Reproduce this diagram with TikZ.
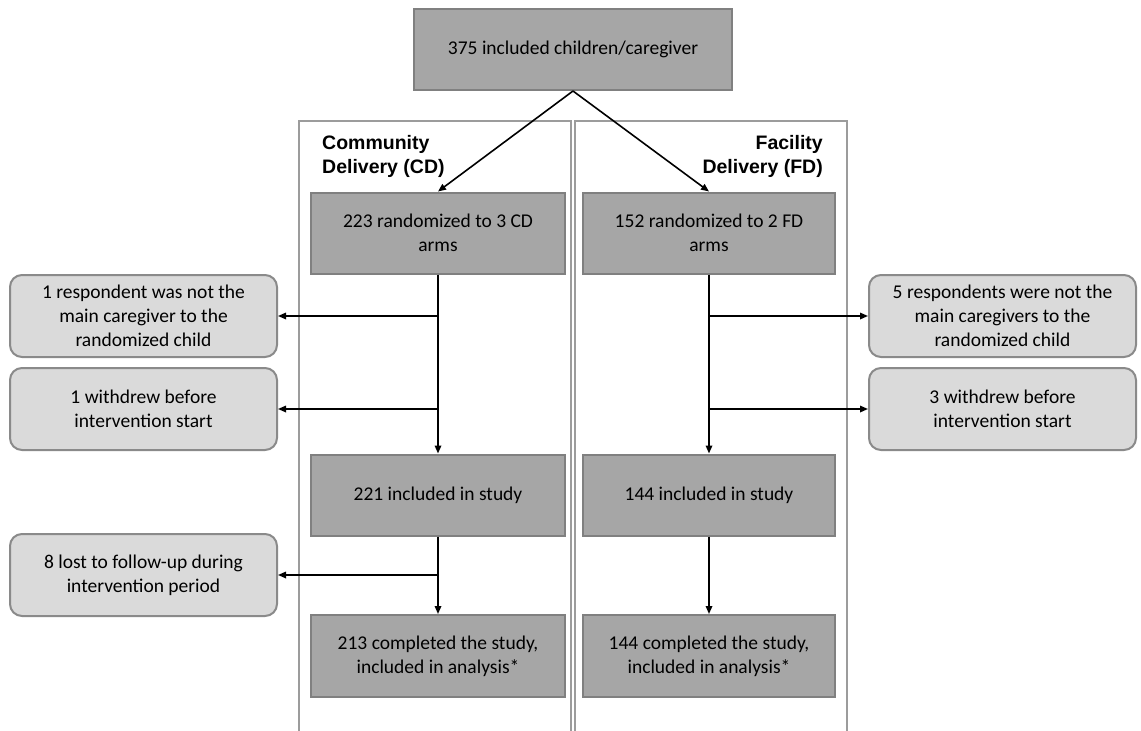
\documentclass[tikz,border=0pt]{standalone}
\usepackage{fontspec}
\setmainfont{Carlito}
\newfontfamily\ttlfamily{Liberation Sans}
\usepackage{xcolor}
\usepackage{tikz}
\usetikzlibrary{positioning,arrows.meta}
\definecolor{boxfill}{HTML}{A6A6A6}
\definecolor{boxedge}{HTML}{808080}
\definecolor{exfill}{HTML}{DADADA}
\definecolor{exedge}{HTML}{8A8A8A}
\definecolor{framegray}{HTML}{9C9C9C}
\newcommand{\boxfont}{\fontsize{19.5}{24}\selectfont}

\begin{document}
\begin{tikzpicture}[
  x=1pt, y=-1pt,
  mainbox/.style={rectangle, draw=boxedge, fill=boxfill, line width=2pt, minimum width=254pt, minimum height=81pt, align=center, font=\boxfont},
  exbox/.style={rectangle, rounded corners=12pt, draw=exedge, fill=exfill, line width=2pt, minimum width=267pt, minimum height=82pt, align=center, font=\boxfont},
  arm/.style={draw=framegray, line width=2.2pt},
  ttl/.style={inner sep=0pt, font=\ttlfamily\bfseries\fontsize{19.5}{24.5}\selectfont},
  flow/.style={-{Triangle[length=8pt,width=6.5pt]}, line width=1.6pt, black}
]
\useasboundingbox (0,0) rectangle (1141,731);

% arm frames
\draw[arm] (299,731) -- (299,121) -- (571,121) -- (571,731);
\draw[arm] (575,731) -- (575,121) -- (847,121) -- (847,731);
\node[ttl, anchor=north west, align=left] (cdt) at (322,135) {Community\\Delivery (CD)};
\node[ttl, anchor=north east, align=right] (fdt) at (823,135) {Facility\\Delivery (FD)};

% enrolment
\node[mainbox, minimum width=318pt] (top) at (573,49.5) {375 included children/caregiver};

% community delivery
\node[mainbox] (cd1) at (438,233) {223 randomized to 3 CD\\arms};
\node[mainbox] (cd2) at (438,495) {221 included in study};
\node[mainbox, minimum height=82pt] (cd3) at (438,656) {213 completed the study,\\included in analysis*};

% facility delivery
\node[mainbox, minimum width=252pt] (fd1) at (709,233) {152 randomized to 2 FD\\arms};
\node[mainbox, minimum width=252pt] (fd2) at (709,495) {144 included in study};
\node[mainbox, minimum width=252pt, minimum height=82pt] (fd3) at (709,656) {144 completed the study,\\included in analysis*};

% exclusions
\node[exbox] (ex1) at (143.5,316) {1 respondent was not the\\main caregiver to the\\randomized child};
\node[exbox] (ex2) at (143.5,409) {1 withdrew before\\intervention start};
\node[exbox] (ex3) at (143.5,575) {8 lost to follow-up during\\intervention period};
\node[exbox] (fx1) at (1002.5,316) {5 respondents were not the\\main caregivers to the\\randomized child};
\node[exbox] (fx2) at (1002.5,409) {3 withdrew before\\intervention start};

\draw[flow] (top.south) -- (cd1.north);
\draw[flow] (top.south) -- (fd1.north);
\draw[flow] (cd1) -- (cd2);
\draw[flow] (cd2) -- (cd3);
\draw[flow] (fd1) -- (fd2);
\draw[flow] (fd2) -- (fd3);

\foreach \e in {ex1,ex2} {
  \coordinate (c-\e) at (cd1.south |- \e.east);
  \draw[flow] (c-\e) -- (\e);
}
\coordinate (c-ex3) at (cd2.south |- ex3.east);
\draw[flow] (c-ex3) -- (ex3);
\foreach \f in {fx1,fx2} {
  \coordinate (c-\f) at (fd1.south |- \f.west);
  \draw[flow] (c-\f) -- (\f);
}
\end{tikzpicture}
\end{document}
